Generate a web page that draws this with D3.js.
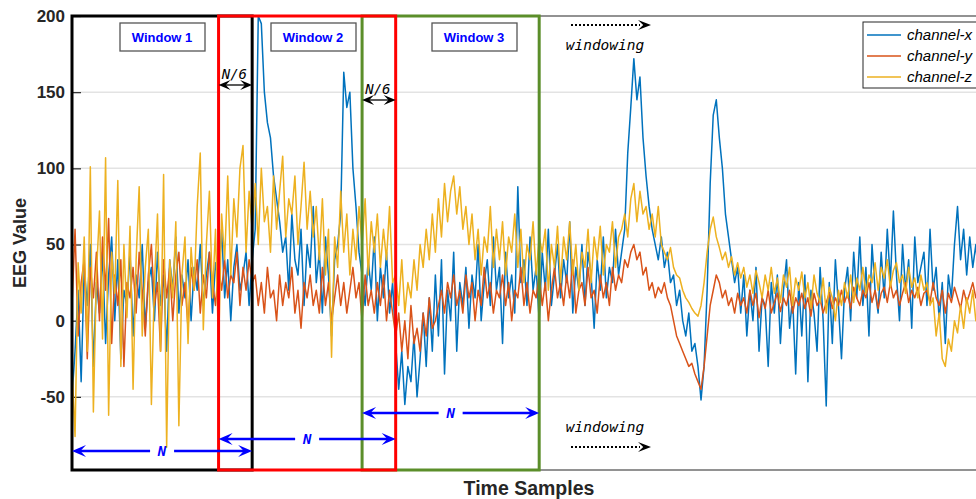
<!DOCTYPE html>
<html>
<head>
<meta charset="utf-8">
<script src="https://cdn.jsdelivr.net/npm/d3@7"></script>
<style>
  body { margin: 0; background: #fff; }
  svg { display: block; font-family: "Liberation Sans", Arial, sans-serif; }
</style>
</head>
<body>
<div id="chart"></div>
<script>
// EEG windowing chart - three channels with overlapping windows

const seriesNames = ['channel-x', 'channel-y', 'channel-z'];
const seriesColors = ['#0072BD', '#D95319', '#EDB120'];
const yTicks = [-50, 0, 50, 100, 150, 200];

// channel-x (blue)
const channelX = [
  -50, -20, 20, -40, 35, 10, 50, -30, 25, 5, 45, -15, 30, 55, 0, 40, -25, 20, 10, 45,
  -10, 30, 15, 50, -5, 25, 35, 0, 45, 10, 30, -20, 40, 20, 55, 5, 30, 15, 40, 0,
  35, 20, 50, 10, 30, 45, 5, 38, 25, 60, 15, 40, 0, 35, 50, 20, 30, 45, 10, 40,
  60, 200, 195, 150, 130, 120, 95, 80, 65, 45, 55, 20, 70, 40, 30, 60, 10, 50, 35, 75,
  25, 45, 5, 55, 30, -10, 40, 50, 70, 163, 140, 150, 100, 75, 45, 30, 10, 40, 20, 55,
  0, 35, 15, 45, 5, 25, -15, -45, -20, -55, -30, -40, -10, -50, -25, 5, -30, 15, -20, 30,
  -10, 40, -35, 20, 0, 45, -20, 25, 10, 35, -5, 30, 15, 50, 0, 25, 40, 10, 55, 20,
  35, -15, 45, 15, 30, 5, 88, 25, 40, 10, 55, 20, 35, 0, 45, 20, 60, 10, 30, 50,
  15, 40, 25, 65, 5, 35, 20, 50, 10, 45, 30, -5, 40, 20, 55, 15, 35, 25, 60, 30,
  45, 60, 110, 140, 172, 145, 160, 120, 95, 75, 60, 50, 40, 55, 35, 45, 25, 30, 10, 20,
  0, -10, 5, -20, -15, -30, -52, -30, 20, 90, 135, 145, 120, 100, 70, 55, 40, 25, 35, 5,
  30, -10, 20, 0, 35, -20, 15, 10, -30, 25, 5, 30, -15, 20, 40, -5, 15, -35, 25, -10,
  30, -40, 20, 5, -20, 35, 0, -56, 25, -15, 40, 10, -25, 20, 35, 0, 45, 15, 55, 10,
  35, -10, 50, 20, 5, 45, 15, 60, 25, 72, 30, 0, 50, 20, 40, -5, 55, 25, 35, 45,
  10, 60, 20, 35, 0, 25, -15, 30, 15, 50, 75, 40, 60, 30, 55, 35, 50, 25, 45, 30
];

// channel-y (orange)
const channelY = [
  10, 60, -10, 25, 40, -25, 35, 15, 45, 0, 55, 20, 67, -15, 30, 10, 40, -30, 25, 15,
  35, 5, 45, 20, -10, 30, 50, 10, 25, -20, 40, 15, 35, 0, 30, 45, 10, 25, -5, 35,
  20, 40, 5, 30, 15, 45, 25, 10, 35, 20, 40, 15, 30, 25, 45, 10, 35, 20, 40, 25,
  30, 10, 25, 5, 35, 15, 20, 0, 30, 10, 25, 15, 35, 5, 20, -5, 25, 15, 30, 10,
  20, 5, 35, 10, 25, 0, 15, 30, 10, 25, 5, 20, 35, 15, 25, 0, 30, 10, 20, 5,
  25, 10, 30, 0, 20, 5, -10, 5, -20, 0, -25, 10, -15, -5, -20, 5, -10, 15, -5, 0,
  10, 20, 5, 25, 15, 30, 10, 20, 5, 30, 15, 25, 0, 20, 10, 35, 15, 25, 5, 20,
  15, 30, 10, 25, 0, 20, 15, 35, 10, 25, 5, 20, 15, 30, 10, 25, 0, 20, 35, 15,
  25, 10, 30, 15, 40, 5, 20, 25, 10, 35, 15, 20, 5, 30, 15, 25, 10, 35, 20, 30,
  25, 40, 35, 45, 50, 40, 45, 30, 35, 20, 25, 15, 22, 18, 25, 15, 10, 0, -10, -15,
  -20, -25, -30, -28, -35, -40, -45, -30, -10, 10, 20, 30, 25, 15, 20, 10, 15, 5, 18, 10,
  15, 5, 20, 10, 18, 2, 15, 8, 20, 5, 12, 18, 6, 15, 10, 20, 5, 15, 10, 18,
  8, 15, 3, 18, 10, 14, 5, 12, 18, 8, 15, 10, 20, 12, 18, 8, 22, 15, 10, 20,
  15, 25, 12, 20, 8, 18, 22, 12, 25, 15, 20, 10, 18, 25, 12, 20, 15, 22, 10, 18,
  20, 12, 25, 15, 10, 20, 5, 18, 12, 22, 15, 8, 20, 12, 18, 25, 15, 20, 10, 18
];

// channel-z (yellow)
const channelZ = [
  -30, -76, 38, 5, 55, -20, 101, -60, 30, 72, -12, 107, -62, 45, 18, 92, -30, 50, 2, 62,
  -45, 40, 88, -10, 35, 60, -55, 25, 70, -20, 96, -83, 40, 15, 65, -69, 30, 55, -15, 48,
  20, 75, 110, -6, 50, 85, 15, 60, -19, 70, 40, 95, 30, 80, 55, 100, 115, 45, 85, 60,
  90, 50, 100, 65, 75, 45, 95, 60, 85, 108, 55, 80, 70, 95, 50, 75, 104, 60, 85, 55,
  75, 40, 80, 30, 60, -24, 55, 35, 85, 45, 70, 30, 60, 40, 75, 50, 80, 30, 65, 45,
  70, 35, 60, 40, 75, 25, 30, 10, 40, 5, 25, 15, 40, 20, 50, 35, 60, 40, 70, 45,
  80, 55, 90, 65, 85, 95, 70, 88, 60, 75, 50, 70, 40, 60, 30, 55, 45, 75, 35, 60,
  40, 65, 30, 55, 45, 70, 35, 60, 25, 50, 40, 65, 30, 55, 45, 60, 20, 50, 35, 62,
  25, 55, 40, 65, 30, 50, 20, 45, 35, 60, 25, 55, 40, 62, 30, 50, 45, 65, 35, 55,
  60, 70, 55, 80, 90, 65, 85, 70, 75, 60, 70, 55, 75, 50, 45, 40, 48, 35, 30, 28,
  20, 15, 12, 8, 5, 3, 10, 25, 45, 60, 68, 55, 48, 40, 45, 35, 42, 30, 38, 28,
  35, 22, 30, 18, 33, 25, 15, 30, 20, 35, 18, 28, 12, 30, 22, 35, 10, 28, 20, 32,
  15, 25, 8, 30, 18, 12, 28, 5, 22, 15, 0, 20, 10, 25, 15, 30, 12, 28, 20, 35,
  18, 30, 25, 38, 20, 35, 28, 40, 22, 33, 38, 25, 30, 18, 35, 22, 28, 15, 30, 20,
  25, 10, 15, -10, 5, -25, -30, -12, -20, 0, -8, 10, -5, 15, 5, 20, 0, 12, 8, 18
];

// windows as sample-index ranges, N = 59 samples, step = 5N/6
const windows = [
  { label: 'Window 1', start: 0, end: 59, color: '#000000', labelX: 162 },
  { label: 'Window 2', start: 48, end: 106, color: '#ff0000', labelX: 313 },
  { label: 'Window 3', start: 95, end: 153, color: '#5b8e2a', labelX: 474 }
];

const width = 976, height = 499;
const margin = { top: 16, right: -9, bottom: 29, left: 72 };

const svg = d3.select('#chart').append('svg')
  .attr('width', width)
  .attr('height', height);

const x = d3.scaleLinear()
  .domain([0, channelX.length - 1])
  .range([margin.left, width - margin.right]);

const y = d3.scaleLinear()
  .domain([-98, 200])
  .range([height - margin.bottom, margin.top]);

// clip path for data
svg.append('defs').append('clipPath').attr('id', 'plot-clip')
  .append('rect')
  .attr('x', margin.left)
  .attr('y', margin.top)
  .attr('width', width - margin.left - margin.right)
  .attr('height', height - margin.top - margin.bottom);

// grid lines
svg.append('g')
  .selectAll('line')
  .data(yTicks.filter(d => d < 200))
  .enter()
  .append('line')
  .attr('x1', margin.left)
  .attr('x2', width)
  .attr('y1', d => y(d))
  .attr('y2', d => y(d))
  .attr('stroke', '#e3e3e3')
  .attr('stroke-width', 1.5);

// y axis (inward ticks, MATLAB style)
const yAxis = svg.append('g')
  .attr('transform', `translate(${margin.left},0)`)
  .call(d3.axisLeft(y).tickValues(yTicks).tickSize(-9).tickPadding(7)
    .tickFormat(d => String(d)));
yAxis.select('.domain').remove();
yAxis.selectAll('.tick line').attr('stroke', '#262626').attr('stroke-width', 1.2);
yAxis.selectAll('.tick text')
  .attr('font-family', '"Liberation Sans", Arial, sans-serif')
  .attr('font-size', '17px')
  .attr('font-weight', 'bold')
  .attr('fill', '#262626');

// axes box lines
svg.append('line')
  .attr('x1', margin.left).attr('x2', width)
  .attr('y1', margin.top).attr('y2', margin.top)
  .attr('stroke', '#262626').attr('stroke-width', 1.2);
svg.append('line')
  .attr('x1', margin.left).attr('x2', width)
  .attr('y1', height - margin.bottom).attr('y2', height - margin.bottom)
  .attr('stroke', '#262626').attr('stroke-width', 1.2);
svg.append('line')
  .attr('x1', margin.left).attr('x2', margin.left)
  .attr('y1', margin.top).attr('y2', height - margin.bottom)
  .attr('stroke', '#262626').attr('stroke-width', 1.2);

// axis labels
svg.append('text')
  .attr('transform', `translate(26, ${(margin.top + height - margin.bottom) / 2}) rotate(-90)`)
  .attr('text-anchor', 'middle')
  .attr('font-size', '18px')
  .attr('font-weight', 'bold')
  .attr('fill', '#262626')
  .text('EEG Value');

svg.append('text')
  .attr('x', 529)
  .attr('y', 495)
  .attr('text-anchor', 'middle')
  .attr('font-size', '19.5px')
  .attr('font-weight', 'bold')
  .attr('fill', '#262626')
  .text('Time Samples');

// data lines
const line = d3.line()
  .x((d, i) => x(i))
  .y(d => y(d));

const series = [channelX, channelY, channelZ];
const lineGroup = svg.append('g').attr('clip-path', 'url(#plot-clip)');
series.forEach((values, k) => {
  lineGroup.append('path')
    .datum(values)
    .attr('fill', 'none')
    .attr('stroke', seriesColors[k])
    .attr('stroke-width', 1.5)
    .attr('stroke-linejoin', 'round')
    .attr('d', line);
});

// window rectangles
const winGroup = svg.append('g');
[windows[2], windows[0], windows[1]].forEach(w => {
  winGroup.append('rect')
    .attr('x', x(w.start))
    .attr('y', margin.top)
    .attr('width', x(w.end) - x(w.start))
    .attr('height', height - margin.bottom - margin.top)
    .attr('fill', 'none')
    .attr('stroke', w.color)
    .attr('stroke-width', 3);
});

// window label boxes
windows.forEach(w => {
  const g = svg.append('g').attr('transform', `translate(${w.labelX}, 37)`);
  g.append('rect')
    .attr('x', -42).attr('y', -14)
    .attr('width', 85).attr('height', 28)
    .attr('fill', '#fff')
    .attr('stroke', '#555')
    .attr('stroke-width', 1.3);
  g.append('text')
    .attr('text-anchor', 'middle')
    .attr('dy', '0.36em')
    .attr('font-size', '13px')
    .attr('font-weight', 'bold')
    .attr('fill', '#0000ff')
    .text(w.label);
});

// arrowhead helper: tip at (tx, ty) pointing in dir (+1 right, -1 left)
function arrowHead(g, tx, ty, dir, len, half, color) {
  g.append('path')
    .attr('d', `M${tx},${ty} L${tx - dir * len},${ty - half} L${tx - dir * len * 0.6},${ty} L${tx - dir * len},${ty + half} Z`)
    .attr('fill', color);
}

// N/6 overlap arrows
const overlaps = [
  { a: windows[1].start, b: windows[0].end, yv: 85, ty: 79 },
  { a: windows[2].start, b: windows[1].end, yv: 100, ty: 94 }
];
overlaps.forEach(o => {
  const g = svg.append('g');
  const x1 = x(o.a), x2 = x(o.b);
  g.append('line')
    .attr('x1', x1 + 4).attr('x2', x2 - 4)
    .attr('y1', o.yv).attr('y2', o.yv)
    .attr('stroke', '#000').attr('stroke-width', 1.3);
  arrowHead(g, x1, o.yv, -1, 12, 5, '#000');
  arrowHead(g, x2, o.yv, 1, 12, 5, '#000');
  g.append('text')
    .attr('x', (x1 + x2) / 2 - 1)
    .attr('y', o.ty)
    .attr('text-anchor', 'middle')
    .attr('font-family', '"DejaVu Sans Mono", monospace')
    .attr('font-style', 'italic')
    .attr('font-size', '14px')
    .attr('fill', '#000')
    .text('N/6');
});

// N length arrows (blue)
const spans = [
  { w: windows[0], yv: 451 },
  { w: windows[1], yv: 439 },
  { w: windows[2], yv: 413 }
];
spans.forEach(s => {
  const g = svg.append('g');
  const x1 = x(s.w.start), x2 = x(s.w.end);
  const mid = (x1 + x2) / 2;
  g.append('line')
    .attr('x1', x1 + 6).attr('x2', mid - 12)
    .attr('y1', s.yv).attr('y2', s.yv)
    .attr('stroke', '#0000ff').attr('stroke-width', 2.5);
  g.append('line')
    .attr('x1', mid + 12).attr('x2', x2 - 6)
    .attr('y1', s.yv).attr('y2', s.yv)
    .attr('stroke', '#0000ff').attr('stroke-width', 2.5);
  arrowHead(g, x1, s.yv, -1, 14, 6, '#0000ff');
  arrowHead(g, x2, s.yv, 1, 14, 6, '#0000ff');
  g.append('text')
    .attr('x', mid)
    .attr('y', s.yv)
    .attr('dy', '0.36em')
    .attr('text-anchor', 'middle')
    .attr('font-family', '"DejaVu Sans Mono", monospace')
    .attr('font-style', 'italic')
    .attr('font-weight', 'bold')
    .attr('font-size', '14px')
    .attr('fill', '#0000ff')
    .text('N');
});

// "windowing" annotations with dotted arrows
const windowing = [
  { arrowY: 25, textY: 50 },
  { arrowY: 447, textY: 432 }
];
windowing.forEach(a => {
  const g = svg.append('g');
  g.append('line')
    .attr('x1', 571).attr('x2', 640)
    .attr('y1', a.arrowY).attr('y2', a.arrowY)
    .attr('stroke', '#000')
    .attr('stroke-width', 2)
    .attr('stroke-dasharray', '2,2');
  arrowHead(g, 651, a.arrowY, 1, 13, 5, '#000');
  g.append('text')
    .attr('x', 605)
    .attr('y', a.textY)
    .attr('text-anchor', 'middle')
    .attr('font-family', '"DejaVu Sans Mono", monospace')
    .attr('font-style', 'italic')
    .attr('font-size', '14.5px')
    .attr('fill', '#000')
    .text('windowing');
});

// legend
const legend = svg.append('g').attr('transform', 'translate(863, 22)');
legend.append('rect')
  .attr('width', 130).attr('height', 66)
  .attr('fill', '#fff')
  .attr('stroke', '#262626')
  .attr('stroke-width', 1);
seriesNames.forEach((name, i) => {
  const ly = 13 + i * 21;
  legend.append('line')
    .attr('x1', 4).attr('x2', 38)
    .attr('y1', ly).attr('y2', ly)
    .attr('stroke', seriesColors[i])
    .attr('stroke-width', 1.3);
  legend.append('text')
    .attr('x', 44)
    .attr('y', ly)
    .attr('dy', '0.35em')
    .attr('font-style', 'italic')
    .attr('font-size', '15px')
    .attr('fill', '#000')
    .text(name);
});
</script>
</body>
</html>
